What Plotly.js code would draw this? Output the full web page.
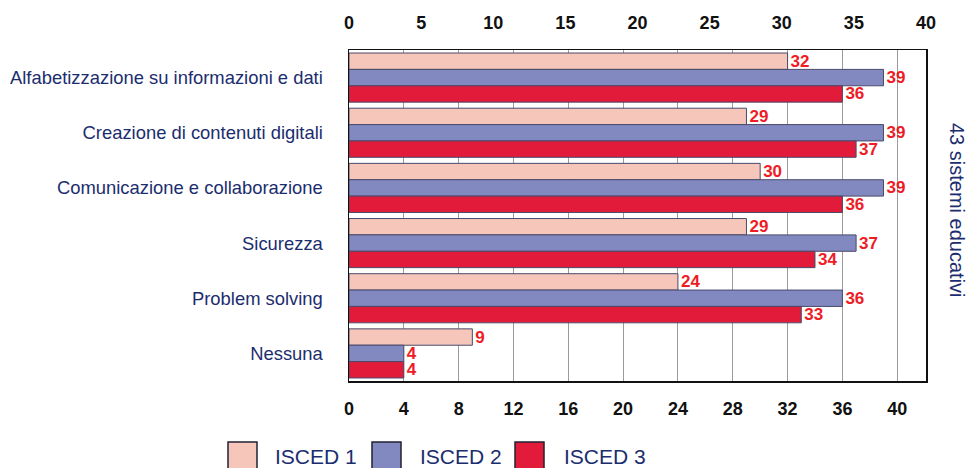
<!DOCTYPE html>
<html>
<head>
<meta charset="utf-8">
<script src="https://cdn.plot.ly/plotly-3.0.1.min.js"></script>
<style>
  html, body { margin: 0; padding: 0; background: #ffffff; }
  #chart { width: 970px; height: 468px; }
</style>
</head>
<body>
<div id="chart"></div>
<script>
const categories = [
  "Alfabetizzazione su informazioni e dati",
  "Creazione di contenuti digitali",
  "Comunicazione e collaborazione",
  "Sicurezza",
  "Problem solving",
  "Nessuna"
];
const seriesNames = ["ISCED 1", "ISCED 2", "ISCED 3"];
const isced1 = [32, 29, 30, 29, 24, 9];
const isced2 = [39, 39, 39, 37, 36, 4];
const isced3 = [36, 37, 36, 34, 33, 4];
const bottomTicks = [0, 4, 8, 12, 16, 20, 24, 28, 32, 36, 40];
const topTicks = [0, 5, 10, 15, 20, 25, 30, 35, 40];
const sideTitle = "43 sistemi educativi";

const colors = ["#F7C6BB", "#8289C1", "#E31B3A"];
const narrow = "Liberation Sans Narrow, Arial Narrow, Liberation Sans, Arial, sans-serif";
const labelFont = { family: narrow, size: 17, color: "#EE1C25", weight: "bold" };
const navy = "#1B2D6E";

const values = [isced1, isced2, isced3];
const data = values.map((v, i) => ({
  type: "bar",
  orientation: "h",
  name: seriesNames[i],
  y: categories,
  x: v,
  text: v.map(String),
  textposition: "outside",
  constraintext: "none",
  cliponaxis: false,
  textfont: labelFont,
  marker: { color: colors[i], line: { color: "#4A4A6A", width: 1 } },
  xaxis: "x",
  yaxis: "y",
  hoverinfo: "x+y+name",
  showlegend: false
}));
// invisible companion trace so the top (0-40, step 5) axis is drawn
data.push({
  type: "scatter", mode: "none", x: isced1, y: categories,
  xaxis: "x2", yaxis: "y", showlegend: false, hoverinfo: "skip"
});

// plot geometry in pixels, used for placing the hand-drawn legend
const W = 970, H = 468, L = 349, R = 44, T = 50, B = 87;
const pw = W - L - R, ph = H - T - B;
const px = x => (x - L) / pw;
const py = y => (H - B - y) / ph;

const shapes = [];
const annotations = [];
const legendSquareX = [228, 372, 515];
const legendTextX = [273, 418, 562];
seriesNames.forEach((n, i) => {
  shapes.push({
    type: "rect", xref: "paper", yref: "paper",
    x0: px(legendSquareX[i]), x1: px(legendSquareX[i] + 29),
    y0: py(442), y1: py(470),
    fillcolor: colors[i], line: { color: "#222233", width: 1.5 }
  });
  annotations.push({
    xref: "paper", yref: "paper", x: px(legendTextX[i]), y: py(456),
    xanchor: "left", yanchor: "middle", showarrow: false,
    text: n, font: { family: "Liberation Sans, Arial, sans-serif", size: 21, color: navy }
  });
});
annotations.push({
  xref: "paper", yref: "paper", x: px(957), y: py(210),
  xanchor: "center", yanchor: "middle", showarrow: false,
  textangle: 90, text: sideTitle,
  font: { family: "Liberation Sans, Arial, sans-serif", size: 20, color: navy }
});

const tickFont = { family: narrow, size: 18, color: "#111111", weight: "bold" };

const layout = {
  width: W, height: H,
  margin: { l: L, r: R, t: T, b: B, pad: 0 },
  paper_bgcolor: "#ffffff",
  plot_bgcolor: "#ffffff",
  barmode: "group",
  bargap: 0.11,
  bargroupgap: 0,
  showlegend: false,
  xaxis: {
    range: [0, 42.1],
    tickvals: bottomTicks,
    ticktext: bottomTicks.map(String),
    showgrid: true, gridcolor: "#9A9A9A", gridwidth: 1,
    zeroline: false,
    showline: true, linecolor: "#111111", linewidth: 1.5, mirror: true,
    ticks: "", ticklabelstandoff: 11,
    tickfont: tickFont,
    fixedrange: true
  },
  xaxis2: {
    overlaying: "x", side: "top", anchor: "y",
    range: [0, 40],
    tickvals: topTicks,
    ticktext: topTicks.map(String),
    showgrid: false, zeroline: false, showline: false,
    ticks: "", ticklabelstandoff: 16,
    tickfont: tickFont,
    fixedrange: true
  },
  yaxis: {
    autorange: "reversed",
    showgrid: false, zeroline: false,
    showline: true, linecolor: "#111111", linewidth: 1.5, mirror: true,
    ticks: "", ticklabelstandoff: 21,
    tickfont: { family: "Liberation Sans, Arial, sans-serif", size: 18.4, color: navy },
    fixedrange: true
  },
  shapes: shapes,
  annotations: annotations
};

Plotly.newPlot("chart", data, layout, { displayModeBar: false, staticPlot: true });
</script>
</body>
</html>
